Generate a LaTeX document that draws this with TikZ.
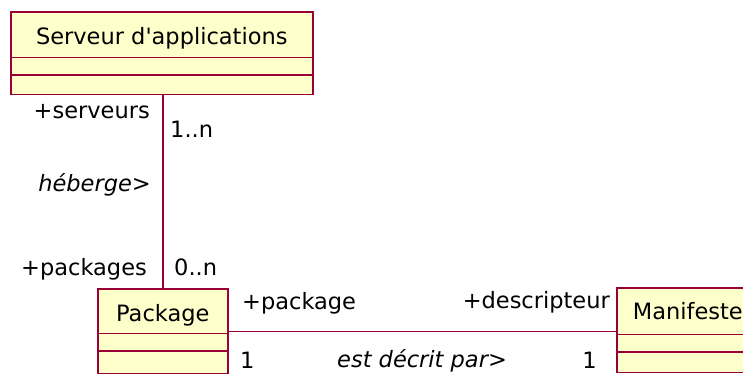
\documentclass[tikz,border=0pt]{standalone}
\usepackage{fontspec}
\setmainfont{DejaVu Sans}
\usepackage{xcolor}
\usetikzlibrary{positioning,shapes.multipart,calc}
\definecolor{umlfond}{RGB}{255,255,204}
\definecolor{umltrait}{RGB}{153,0,51}
\tikzset{
classe/.style={
draw=umltrait,
line width=1.6pt,
fill=umlfond,
rectangle split,
rectangle split parts=3,
inner xsep=0pt,
inner ysep=0pt,
font=\fontsize{22.5pt}{27pt}\selectfont
},
lien/.style={
draw=umltrait,
line width=1.4pt
},
etiq/.style={
inner sep=0pt,
font=\fontsize{22.5pt}{27pt}\selectfont
},
nomlien/.style={
etiq,
font=\fontsize{22.5pt}{27pt}\selectfont\itshape
}
}

\begin{document}
\begin{tikzpicture}[x=1pt,y=-1pt]
\useasboundingbox (0,0) rectangle (743,374);
% classes
\node[classe,minimum width=302pt,anchor=north west](serveur) at (10,11)
{\rule[-12pt]{0pt}{44pt}Serveur d\textquotesingle applications\nodepart{two}\rule{0pt}{16pt}\nodepart{three}\rule{0pt}{18pt}};
\node[classe,minimum width=130pt,anchor=north west](package) at (97,288)
{\rule[-11pt]{0pt}{43pt}Package\nodepart{two}\rule{0pt}{16pt}\nodepart{three}\rule{0pt}{21pt}};
\node[classe,minimum width=142pt,anchor=north west](manifeste) at (616,287)
{\rule[-14pt]{0pt}{45pt}Manifeste\nodepart{two}\rule{0pt}{16pt}\nodepart{three}\rule{0pt}{19pt}};

% associations
\draw[lien](package.north |- serveur.south)--(package.north);
\draw[lien](package.east)--(package.east -| manifeste.west);

% roles et multiplicites
\node[etiq,anchor=base east](rolesrv) at (150,119){+serveurs};
\node[etiq,anchor=base west](multsrv) at (170,138){1..n};
\node[nomlien,anchor=base east](heberge) at (151,191){héberge>};
\node[etiq,anchor=base east](rolepkgs) at (147,275){+packages};
\node[etiq,anchor=base west](multpkgs) at (174,275){0..n};
\node[etiq,anchor=base west](rolepkg) at (242,309){+package};
\node[etiq,anchor=base east](roledesc) at (610,308){+descripteur};
\node[etiq,anchor=base west](multpkg) at (240,368){1};
\node[nomlien,anchor=base west](decrit) at (337,367){est décrit par>};
\node[etiq,anchor=base east](multdesc) at (597,368){1};
\end{tikzpicture}
\end{document}
